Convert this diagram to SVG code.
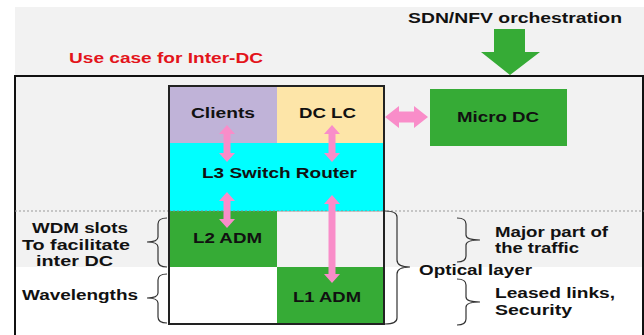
<svg xmlns="http://www.w3.org/2000/svg" width="644" height="335" viewBox="0 0 644 335">
<style>
text{font-family:"Liberation Sans",Arial,sans-serif;font-weight:bold;font-size:14px;fill:#111}
.red{fill:#e3141b;font-size:15px}
.pink{fill:#f98dc9}
.green{fill:#36ab36}
.brace{fill:none;stroke:#333;stroke-width:1.2}
</style>
<rect x="0" y="0" width="644" height="335" fill="#fff"/>
<rect x="15" y="7" width="629" height="260" fill="#f2f2f2"/>
<rect x="15" y="76" width="628" height="270" fill="none" stroke="#111" stroke-width="2"/>
<line x1="15" y1="211" x2="644" y2="211" stroke="#999" stroke-width="1" stroke-dasharray="2,2"/>

<text class="red" x="69" y="63" textLength="194" lengthAdjust="spacingAndGlyphs">Use case for Inter-DC</text>

<g id="orchestration">
<text x="408" y="23" textLength="214" lengthAdjust="spacingAndGlyphs">SDN/NFV orchestration</text>
<path class="green" d="M494,29 H525 V52 H540 L510,75 L481,52 H494 Z"/>
</g>

<g id="clients">
<rect x="169" y="86" width="108" height="57" fill="#c0b3d8"/>
<text x="191" y="118" textLength="64" lengthAdjust="spacingAndGlyphs">Clients</text>
</g>
<g id="dclc">
<rect x="277" y="86" width="107" height="57" fill="#fde5a8"/>
<text x="299" y="118" textLength="57" lengthAdjust="spacingAndGlyphs">DC LC</text>
</g>
<g id="l3">
<rect x="169" y="143" width="215" height="68" fill="#00ffff"/>
<text x="202" y="178" textLength="155" lengthAdjust="spacingAndGlyphs">L3 Switch Router</text>
</g>
<g id="l2">
<rect x="169" y="211" width="108" height="56" fill="#36ab36"/>
<text x="193" y="243" textLength="69" lengthAdjust="spacingAndGlyphs">L2 ADM</text>
</g>
<rect x="169" y="267" width="108" height="57" fill="#fff"/>
<g id="l1">
<rect x="277" y="267" width="107" height="57" fill="#36ab36"/>
<text x="293" y="302" textLength="68" lengthAdjust="spacingAndGlyphs">L1 ADM</text>
</g>
<line x1="169" y1="211" x2="384" y2="211" stroke="#888" stroke-width="1" stroke-dasharray="2,2"/>
<rect x="169" y="86" width="215" height="238" fill="none" stroke="#222" stroke-width="2"/>

<g id="microdc">
<rect x="430" y="89" width="137" height="57" fill="#36ab36"/>
<text x="457" y="122" textLength="82" lengthAdjust="spacingAndGlyphs">Micro DC</text>
</g>

<g id="connectors">
<path class="pink" d="M227,125 L235,134 H230.5 V153 H235 L227,162 L219,153 H223.5 V134 H219 Z"/>
<path class="pink" d="M332,125 L340,134 H335.5 V153 H340 L332,162 L324,153 H328.5 V134 H324 Z"/>
<path class="pink" d="M227,192 L235,201 H230.5 V219 H235 L227,228 L219,219 H223.5 V201 H219 Z"/>
<path class="pink" d="M332,195 L340,204 H335.5 V274 H340 L332,283 L324,274 H328.5 V204 H324 Z"/>
<path class="pink" d="M385,117 L399,106 V111.5 H414 V106 L428,117 L414,128 V122.5 H399 V128 Z"/>
</g>

<g id="braces">
<path class="brace" d="M385,211 Q397,211 397,217 V260 Q397,267 410,267 Q397,267 397,274 V318 Q397,324 385,324"/>
<path class="brace" d="M167,218 Q158,218 158,224 V237 Q158,242 147,242 Q158,242 158,247 V261 Q158,267 167,267"/>
<path class="brace" d="M167,274 Q158,274 158,280 V293 Q158,298 147,298 Q158,298 158,303 V317 Q158,323 167,323"/>
<path class="brace" d="M457,218 Q466,218 466,224 V235 Q466,240 480,240 Q466,240 466,245 V256 Q466,262 457,262"/>
<path class="brace" d="M457,279 Q466,279 466,285 V297 Q466,302 480,302 Q466,302 466,307 V319 Q466,325 457,325"/>
</g>

<g id="labels">
<text x="32" y="233" textLength="96" lengthAdjust="spacingAndGlyphs">WDM slots</text>
<text x="22" y="250" textLength="108" lengthAdjust="spacingAndGlyphs">To facilitate</text>
<text x="36" y="266" textLength="77" lengthAdjust="spacingAndGlyphs">inter DC</text>
<text x="22" y="300" textLength="116" lengthAdjust="spacingAndGlyphs">Wavelengths</text>
<text x="495" y="237" textLength="113" lengthAdjust="spacingAndGlyphs">Major part of</text>
<text x="495" y="253" textLength="84" lengthAdjust="spacingAndGlyphs">the traffic</text>
<text x="419" y="275" textLength="113" lengthAdjust="spacingAndGlyphs">Optical layer</text>
<text x="495" y="298" textLength="120" lengthAdjust="spacingAndGlyphs">Leased links,</text>
<text x="495" y="315" textLength="77" lengthAdjust="spacingAndGlyphs">Security</text>
</g>
</svg>
